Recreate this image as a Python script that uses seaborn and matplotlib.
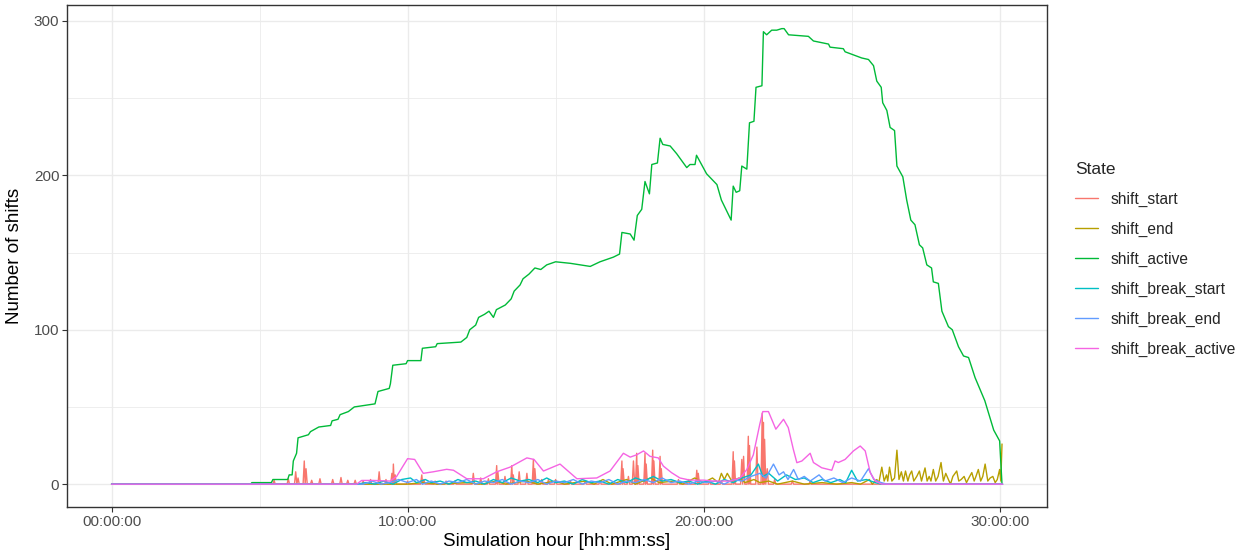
import pandas as pd
import numpy as np
import matplotlib
matplotlib.use("Agg")
import matplotlib.pyplot as plt
import seaborn as sns

# %% Data: (hour, number of shifts)
states = ["shift_start", "shift_end", "shift_active",
          "shift_break_start", "shift_break_end", "shift_break_active"]
colors = ["#F8766D", "#B79F00", "#00BA38", "#00BFC4", "#619CFF", "#F564E3"]

shift_start = [
    (0, 0), (5.45, 0), (5.49, 2.5), (5.53, 0), (5.93, 0), (5.97, 3.5), (6.01, 0),
    (6.18, 0), (6.22, 8), (6.26, 0), (6.30, 4), (6.34, 0), (6.47, 0), (6.51, 15),
    (6.54, 0), (6.57, 10), (6.61, 0), (6.72, 0), (6.76, 2.5), (6.8, 0), (7.0, 0),
    (7.04, 3.5), (7.08, 0), (7.43, 0), (7.47, 3), (7.51, 0), (7.71, 0), (7.75, 4.3),
    (7.79, 0), (7.94, 0), (7.98, 2.5), (8.02, 0), (8.19, 0), (8.23, 2.5), (8.27, 0),
    (8.46, 0), (8.5, 2), (8.54, 0), (8.71, 0), (8.75, 3), (8.79, 0), (9.0, 0),
    (9.04, 8), (9.08, 0), (9.23, 0), (9.27, 3), (9.31, 0), (9.43, 0), (9.47, 7),
    (9.5, 0), (9.52, 13), (9.55, 0), (9.58, 6), (9.62, 0), (9.96, 0), (10.0, 2),
    (10.04, 0), (10.44, 0), (10.48, 6), (10.51, 0), (10.55, 3), (10.59, 0),
    (10.89, 0), (10.93, 2), (10.97, 0), (11.26, 0), (11.3, 2), (11.34, 0),
    (11.56, 0), (11.6, 2), (11.64, 0), (12.18, 0), (12.22, 7), (12.26, 0),
    (12.43, 0), (12.47, 4), (12.51, 0), (12.69, 0), (12.73, 3.5), (12.77, 0),
    (12.97, 0), (13.01, 12), (13.03, 0), (13.05, 8), (13.09, 0), (13.25, 0),
    (13.29, 5), (13.33, 0), (13.48, 0), (13.52, 12), (13.55, 0), (13.57, 6),
    (13.61, 0), (13.73, 0), (13.77, 8), (13.81, 0), (13.99, 0), (14.03, 7),
    (14.07, 0), (14.21, 0), (14.25, 16), (14.27, 0), (14.3, 10), (14.34, 0),
    (14.49, 0), (14.53, 3), (14.57, 0), (14.72, 0), (14.76, 3), (14.8, 0),
    (14.96, 0), (15.0, 3), (15.04, 0), (15.46, 0), (15.5, 2), (15.54, 0),
    (15.96, 0), (16.0, 2), (16.04, 0), (16.46, 0), (16.5, 2), (16.54, 0),
    (17.2, 0), (17.24, 15), (17.26, 0), (17.28, 10), (17.32, 0), (17.42, 0),
    (17.46, 5), (17.5, 0), (17.59, 0), (17.63, 15), (17.67, 0), (17.7, 0),
    (17.74, 20), (17.76, 0), (17.78, 12), (17.82, 0), (17.98, 0), (18.02, 20),
    (18.04, 0), (18.06, 13), (18.1, 0), (18.24, 0), (18.28, 22), (18.3, 0),
    (18.32, 15), (18.36, 0), (18.49, 0), (18.53, 18), (18.55, 0), (18.57, 10),
    (18.61, 0), (19.11, 0), (19.15, 3), (19.19, 0), (19.46, 0), (19.5, 3),
    (19.54, 0), (19.73, 0), (19.77, 9), (19.8, 0), (19.82, 7), (19.86, 0),
    (20.16, 0), (20.2, 2), (20.24, 0), (20.56, 0), (20.6, 2), (20.64, 0),
    (20.96, 0), (21.0, 21), (21.02, 0), (21.04, 15), (21.08, 0), (21.25, 0),
    (21.29, 16), (21.32, 0), (21.35, 18), (21.39, 0), (21.47, 0), (21.51, 31),
    (21.53, 0), (21.55, 25), (21.59, 0), (21.76, 0), (21.8, 24), (21.84, 0),
    (21.94, 0), (21.98, 46), (22.0, 0), (22.02, 40), (22.04, 0), (22.06, 29),
    (22.1, 0), (22.15, 10), (22.19, 0), (22.36, 0), (22.4, 3), (22.44, 0),
    (22.96, 0), (23.0, 2), (23.04, 0), (23.56, 0), (23.6, 2), (23.64, 0),
    (30.1, 0),
]

shift_end = [
    (0, 0), (10.0, 0), (10.5, 1), (11.0, 0), (12.0, 1), (12.5, 0), (13.0, 2),
    (13.3, 0), (14.0, 2), (14.4, 0), (15.0, 2), (15.3, 0), (16.0, 2), (16.3, 0),
    (16.6, 3), (16.9, 0), (17.4, 3), (17.7, 0), (18.2, 4), (18.5, 1), (19.0, 2),
    (19.3, 0), (19.7, 4), (20.0, 1), (20.3, 4), (20.5, 1), (20.6, 7), (20.7, 3),
    (20.8, 7), (20.95, 2), (21.2, 4), (21.4, 1), (21.7, 3), (21.9, 1), (22.2, 2),
    (22.5, 0), (23.0, 2), (23.4, 0), (24.0, 1), (24.5, 0), (25.0, 1), (25.3, 0),
    (25.6, 3), (25.7, 0), (25.85, 3), (25.92, 1), (26.02, 11), (26.1, 2),
    (26.18, 6), (26.22, 2), (26.28, 11), (26.36, 2), (26.45, 4), (26.53, 22),
    (26.6, 3), (26.68, 8), (26.75, 2), (26.82, 8.5), (26.9, 2), (26.96, 6),
    (27.03, 8.5), (27.1, 2), (27.2, 5), (27.29, 8.5), (27.36, 2), (27.48, 10.5),
    (27.55, 2), (27.62, 5), (27.68, 2), (27.76, 9.5), (27.84, 2), (27.92, 5),
    (28.02, 14), (28.1, 2), (28.18, 7), (28.27, 3), (28.34, 0), (28.42, 5),
    (28.55, 8.5), (28.62, 2), (28.7, 3), (28.8, 5), (28.88, 1), (28.96, 4),
    (29.06, 7.5), (29.14, 2), (29.2, 5), (29.28, 9.5), (29.36, 2), (29.43, 5),
    (29.51, 13), (29.6, 2), (29.68, 4), (29.77, 5), (29.85, 1), (29.92, 3),
    (30.0, 9.5), (30.04, 2), (30.08, 26),
]

shift_active = [
    (0, 0), (4.7, 0), (4.74, 1), (5.4, 1), (5.45, 3), (5.95, 3), (6.0, 6),
    (6.1, 6), (6.14, 15), (6.25, 20), (6.3, 30), (6.65, 32), (6.72, 34),
    (7.0, 37), (7.4, 38), (7.45, 41), (7.65, 42), (7.72, 45), (8.0, 47),
    (8.2, 50), (8.9, 52), (9.0, 60), (9.38, 62), (9.42, 65), (9.5, 77),
    (9.95, 78), (10.0, 80), (10.45, 80), (10.5, 88), (10.95, 89), (11.0, 91),
    (11.8, 92), (12.0, 95), (12.1, 100), (12.3, 103), (12.4, 108), (12.6, 110),
    (12.75, 112), (12.9, 108), (13.0, 113), (13.3, 116), (13.5, 120),
    (13.6, 125), (13.8, 129), (13.9, 133), (14.1, 136), (14.3, 140),
    (14.5, 139), (14.7, 142), (15.0, 144), (15.5, 143), (15.83, 142),
    (16.17, 141), (16.5, 144), (16.95, 147), (17.16, 149), (17.24, 163),
    (17.52, 162), (17.65, 158), (17.76, 174), (17.91, 178), (18.02, 196),
    (18.17, 188), (18.25, 207), (18.44, 208), (18.53, 224), (18.62, 220),
    (18.87, 219), (19.09, 214), (19.43, 205), (19.54, 207), (19.71, 207),
    (19.76, 213), (20.1, 201), (20.45, 194), (20.6, 184), (20.93, 171),
    (21.0, 193), (21.1, 189), (21.22, 190), (21.29, 206), (21.46, 204),
    (21.55, 234), (21.7, 235), (21.77, 257), (21.97, 258), (22.02, 293),
    (22.13, 291), (22.3, 294), (22.47, 294), (22.64, 295), (22.72, 295),
    (22.87, 291), (23.54, 290), (23.71, 287), (24.22, 285), (24.27, 283),
    (24.72, 282), (24.78, 280), (25.06, 278), (25.34, 276), (25.57, 275),
    (25.74, 271), (25.85, 261), (26.0, 257), (26.05, 247), (26.19, 242),
    (26.3, 231), (26.45, 229), (26.53, 206), (26.73, 199), (26.86, 184),
    (27.0, 171), (27.14, 168), (27.29, 155), (27.4, 153), (27.54, 142),
    (27.7, 140), (27.76, 131), (27.93, 130), (28.05, 112), (28.27, 102),
    (28.4, 100), (28.61, 89), (28.78, 83), (28.95, 82), (29.17, 69),
    (29.5, 54), (29.8, 35), (30.0, 28), (30.08, 0),
]

shift_break_start = [
    (0, 0), (8.3, 0), (8.6, 1), (8.9, 0), (9.2, 2), (9.5, 0), (9.8, 3),
    (10.1, 4), (10.3, 1), (10.6, 3), (10.8, 1), (11.1, 2), (11.4, 0), (11.7, 3),
    (12.0, 1), (12.3, 2), (12.6, 0), (12.9, 3), (13.2, 1), (13.5, 4), (13.8, 2),
    (14.1, 3), (14.4, 1), (14.7, 4), (15.0, 1), (15.3, 2), (15.6, 0), (15.9, 3),
    (16.2, 1), (16.5, 2), (16.8, 0), (17.1, 3), (17.4, 1), (17.7, 4), (18.0, 2),
    (18.3, 5), (18.6, 2), (18.9, 3), (19.2, 1), (19.5, 2), (19.8, 0), (20.1, 2),
    (20.4, 0), (20.7, 3), (21.0, 1), (21.3, 4), (21.6, 6), (21.85, 13),
    (22.0, 5), (22.2, 7), (22.5, 2), (22.8, 6), (23.1, 3), (23.4, 4), (23.7, 1),
    (24.0, 3), (24.3, 1), (24.6, 3), (24.8, 1), (25.0, 9), (25.2, 2), (25.5, 3),
    (25.8, 1), (26.0, 0), (30.1, 0),
]

shift_break_end = [
    (0, 0), (8.5, 0), (8.8, 2), (9.1, 0), (9.4, 1), (9.7, 3), (10.0, 1),
    (10.3, 3), (10.5, 0), (10.8, 2), (11.1, 0), (11.4, 2), (11.7, 1), (12.0, 3),
    (12.3, 0), (12.6, 2), (12.9, 1), (13.2, 3), (13.5, 0), (13.8, 2), (14.1, 1),
    (14.4, 3), (14.7, 0), (15.0, 2), (15.3, 1), (15.6, 3), (15.9, 0), (16.2, 2),
    (16.5, 1), (16.8, 3), (17.1, 0), (17.4, 2), (17.7, 1), (18.0, 3), (18.3, 1),
    (18.6, 4), (18.9, 1), (19.2, 2), (19.5, 0), (19.8, 2), (20.1, 1), (20.4, 2),
    (20.7, 0), (21.0, 3), (21.3, 2), (21.6, 5), (21.9, 7), (22.1, 4),
    (22.36, 13), (22.55, 6), (22.7, 8), (22.85, 3), (23.04, 9.5), (23.2, 3),
    (23.4, 5), (23.6, 2), (23.9, 6), (24.1, 2), (24.4, 4), (24.7, 1), (25.0, 4),
    (25.3, 2), (25.57, 10), (25.75, 3), (26.0, 1), (26.2, 0), (30.1, 0),
]

shift_break_active = [
    (0, 0), (8.28, 0), (8.45, 2.4), (8.85, 2.4), (9.41, 2), (9.63, 5),
    (10.0, 16.5), (10.24, 16), (10.53, 7), (10.87, 8), (11.32, 9.6), (11.55, 9),
    (12.0, 3.5), (12.56, 3.5), (13.01, 8), (13.46, 11), (14.03, 17),
    (14.27, 16), (14.59, 8.5), (15.15, 13), (15.72, 3.5), (16.39, 4),
    (16.84, 8.5), (17.29, 20), (17.52, 17.5), (17.74, 19), (17.97, 21.5),
    (18.19, 18), (18.47, 17), (18.64, 11.7), (18.92, 7.4), (19.2, 4),
    (19.54, 2.6), (20.0, 2.6), (20.33, 2), (20.9, 2), (21.23, 4), (21.46, 9.5),
    (21.68, 19), (21.9, 39), (22.0, 47), (22.19, 47), (22.3, 42), (22.44, 35.6),
    (22.7, 42), (22.86, 36.6), (23.03, 22.6), (23.15, 13.9), (23.32, 15),
    (23.6, 20), (23.71, 14), (23.99, 10.6), (24.33, 9), (24.44, 15),
    (24.55, 14), (24.78, 16), (25.06, 21.5), (25.29, 24.7), (25.46, 21.5),
    (25.63, 7.4), (25.8, 2), (26.02, 0), (30.1, 0),
]

series = [shift_start, shift_end, shift_active,
          shift_break_start, shift_break_end, shift_break_active]

x_ticks = [0, 10, 20, 30]
x_labels = ["00:00:00", "10:00:00", "20:00:00", "30:00:00"]
y_ticks = [0, 100, 200, 300]

# %% Long-form table for seaborn
rows = []
for state, pts in zip(states, series):
    for h, v in pts:
        rows.append({"hour": h, "n": v, "State": state})
df = pd.DataFrame(rows)
df["State"] = pd.Categorical(df["State"], categories=states, ordered=True)

# %% Plot (ggplot theme_bw look)
sns.set_theme(style="white")
plt.rcParams["font.family"] = ["Liberation Sans", "DejaVu Sans"]

fig = plt.figure(figsize=(12.44, 5.56), dpi=100)
ax = fig.add_axes([67 / 1244, 1 - 507 / 556, (1047 - 67) / 1244, (507 - 5) / 556])

sns.lineplot(data=df, x="hour", y="n", hue="State", hue_order=states,
             palette=dict(zip(states, colors)), estimator=None, sort=False,
             linewidth=1.0, ax=ax)

ax.set_xlim(-1.505, 31.6)
ax.set_ylim(-14.8, 310.3)
ax.set_xticks(x_ticks)
ax.set_xticklabels(x_labels)
ax.set_yticks(y_ticks)
ax.set_xticks([5, 15, 25], minor=True)
ax.set_yticks([50, 150, 250], minor=True)
ax.grid(True, which="major", color="#EBEBEB", linewidth=1.0)
ax.grid(True, which="minor", color="#EBEBEB", linewidth=0.6)
ax.set_axisbelow(True)
ax.tick_params(which="major", length=3.5, width=0.8, color="#333333",
               labelsize=11, labelcolor="#4D4D4D", pad=2)
ax.tick_params(which="minor", length=0)
ax.tick_params(axis="x", bottom=True)
ax.tick_params(axis="y", left=True)
for sp in ax.spines.values():
    sp.set_color("#333333")
    sp.set_linewidth(1.0)

ax.set_xlabel("Simulation hour [hh:mm:ss]", fontsize=13.5, color="black", labelpad=3)
ax.set_ylabel("Number of shifts", fontsize=13.5, color="black", labelpad=8)

ax.get_legend().remove()
handles = [plt.Line2D([], [], color=c, linewidth=1.0) for c in colors]
leg = fig.legend(handles, states, title="State", loc="upper left",
                 bbox_to_anchor=(1075 / 1244, 1 - 162 / 556), frameon=False,
                 fontsize=11.2, title_fontsize=12.5, handlelength=1.5,
                 handletextpad=0.8, labelspacing=0.95, borderpad=0,
                 borderaxespad=0)
leg._legend_box.align = "left"

fig.savefig("out.png", dpi=100)
